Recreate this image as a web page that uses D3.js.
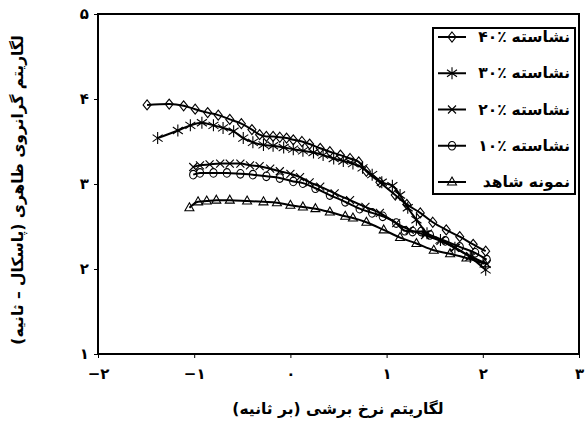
<!DOCTYPE html>
<html>
<head>
<meta charset="utf-8">
<script src="https://cdn.jsdelivr.net/npm/d3@7"></script>
<style>
  html, body { margin: 0; padding: 0; background: #fff; }
  svg { display: block; }
  text { font-family: "DejaVu Sans", sans-serif; font-weight: bold; fill: #000; }
</style>
</head>
<body>
<svg id="chart" width="585" height="430"></svg>
<script>
// ---- data ----
const xTicks = [-2, -1, 0, 1, 2, 3];
const xTickLabels = ["−۲", "−۱", "۰", "۱", "۲", "۳"];
const yTicks = [1, 2, 3, 4, 5];
const yTickLabels = ["۱", "۲", "۳", "۴", "۵"];

// legend: word part and (optional) percentage part
const seriesWords = ["نشاسته", "نشاسته", "نشاسته", "نشاسته", "نمونه شاهد"];
const seriesPercents = ["۴۰٪", "۳۰٪", "۲۰٪", "۱۰٪", ""];
const seriesSymbols = ["diamond", "asterisk", "cross", "circle", "triangle"];

const starch40 = [
  [-1.49, 3.93], [-1.26, 3.94], [-1.11, 3.92], [-0.99, 3.88], [-0.86, 3.84], [-0.75, 3.81],
  [-0.63, 3.76], [-0.51, 3.71], [-0.40, 3.64], [-0.32, 3.58], [-0.25, 3.56], [-0.18, 3.56],
  [-0.11, 3.55], [-0.04, 3.54], [0.03, 3.52], [0.12, 3.50], [0.20, 3.47], [0.31, 3.42],
  [0.41, 3.38], [0.52, 3.34], [0.62, 3.30], [0.71, 3.26], [0.79, 3.15], [0.93, 3.02],
  [1.09, 2.87], [1.21, 2.76], [1.35, 2.66], [1.48, 2.55], [1.62, 2.46], [1.76, 2.38],
  [1.90, 2.29], [2.03, 2.21]
];
const starch30 = [
  [-1.38, 3.54], [-1.17, 3.63], [-1.04, 3.69], [-0.92, 3.72], [-0.80, 3.69], [-0.70, 3.66],
  [-0.59, 3.62], [-0.49, 3.54], [-0.39, 3.49], [-0.28, 3.46], [-0.18, 3.45], [-0.07, 3.43],
  [0.03, 3.41], [0.13, 3.39], [0.24, 3.37], [0.34, 3.34], [0.45, 3.30], [0.55, 3.27],
  [0.65, 3.24], [0.75, 3.19], [0.85, 3.11], [0.95, 3.02], [1.06, 2.98], [1.14, 2.87],
  [1.22, 2.72], [1.31, 2.58], [1.42, 2.42], [1.56, 2.34], [1.71, 2.25], [1.87, 2.14],
  [2.03, 1.99]
];
const starch20 = [
  [-1.01, 3.20], [-0.94, 3.22], [-0.84, 3.23], [-0.73, 3.24], [-0.63, 3.24], [-0.52, 3.24],
  [-0.42, 3.22], [-0.32, 3.21], [-0.21, 3.18], [-0.11, 3.15], [0.00, 3.12], [0.10, 3.08],
  [0.20, 3.02], [0.31, 2.97], [0.46, 2.89], [0.62, 2.81], [0.78, 2.73], [0.93, 2.66],
  [1.10, 2.54], [1.24, 2.46], [1.40, 2.40], [1.56, 2.33], [1.71, 2.25], [1.87, 2.15],
  [2.04, 2.06]
];
const starch10 = [
  [-1.01, 3.11], [-0.94, 3.13], [-0.80, 3.13], [-0.66, 3.13], [-0.52, 3.12], [-0.39, 3.11],
  [-0.25, 3.09], [-0.11, 3.07], [0.03, 3.03], [0.13, 3.01], [0.26, 2.95], [0.41, 2.87],
  [0.57, 2.79], [0.72, 2.71], [0.85, 2.66], [0.96, 2.62], [1.10, 2.54], [1.19, 2.45],
  [1.27, 2.44], [1.36, 2.44], [1.45, 2.40], [1.61, 2.33], [1.76, 2.26], [1.92, 2.19],
  [2.04, 2.11]
];
const control = [
  [-1.05, 2.72], [-0.96, 2.79], [-0.87, 2.80], [-0.77, 2.81], [-0.63, 2.81], [-0.45, 2.80],
  [-0.28, 2.79], [-0.14, 2.78], [0.00, 2.75], [0.13, 2.73], [0.26, 2.71], [0.41, 2.67],
  [0.57, 2.62], [0.65, 2.60], [0.79, 2.55], [0.97, 2.46], [1.14, 2.37], [1.31, 2.30],
  [1.49, 2.22], [1.66, 2.18], [1.83, 2.13], [2.02, 2.06]
];
const seriesData = [starch40, starch30, starch20, starch10, control];

// ---- layout ----
const svg = d3.select("#chart");
const x = d3.scaleLinear().domain([-2, 3]).range([98, 579]);
const y = d3.scaleLinear().domain([1, 5]).range([354, 14]);

function drawSymbol(g, kind) {
  const s = g.append("g").attr("fill", "none").attr("stroke", "#000").attr("stroke-width", 1.1);
  if (kind === "diamond") s.append("path").attr("d", "M0,-5L4,0L0,5L-4,0Z");
  else if (kind === "asterisk") s.append("path").attr("d", "M0,-6V6M-5,-3.5L5,3.5M-5,3.5L5,-3.5");
  else if (kind === "cross") s.append("path").attr("d", "M-4,-4L4,4M-4,4L4,-4");
  else if (kind === "circle") s.append("ellipse").attr("rx", 3.6).attr("ry", 4.3);
  else if (kind === "triangle") s.append("path").attr("d", "M0,-5L4.5,3L-4.5,3Z");
}

const line = d3.line().x(d => x(d[0])).y(d => y(d[1])).curve(d3.curveMonotoneX);

seriesData.forEach((data, i) => {
  svg.append("path").datum(data)
    .attr("d", line).attr("fill", "none").attr("stroke", "#000").attr("stroke-width", 2);
  const g = svg.append("g");
  data.forEach(d => {
    const m = g.append("g").attr("transform", `translate(${x(d[0])},${y(d[1])})`);
    drawSymbol(m, seriesSymbols[i]);
  });
});

// frame
svg.append("rect").attr("x", x(-2)).attr("y", y(5))
  .attr("width", x(3) - x(-2)).attr("height", y(1) - y(5))
  .attr("fill", "none").attr("stroke", "#000").attr("stroke-width", 2);

// axes
const xAxis = d3.axisBottom(x).tickValues(xTicks).tickSize(4).tickPadding(10)
  .tickFormat((d, i) => xTickLabels[i]);
const gx = svg.append("g").attr("transform", `translate(0,${y(1)})`).call(xAxis);
gx.select(".domain").remove();
gx.selectAll("text").attr("font-size", 15).attr("font-family", "DejaVu Sans").attr("font-weight", "bold");

const yAxis = d3.axisLeft(y).tickValues(yTicks).tickSize(4).tickPadding(5)
  .tickFormat((d, i) => yTickLabels[i]);
const gy = svg.append("g").attr("transform", `translate(${x(-2)},0)`).call(yAxis);
gy.select(".domain").remove();
gy.selectAll("text").attr("font-size", 15).attr("font-family", "DejaVu Sans").attr("font-weight", "bold");

// axis titles
svg.append("text").attr("x", 338).attr("y", 414).attr("text-anchor", "middle")
  .attr("font-size", 15.5).text("لگاریتم نرخ برشی (بر ثانیه)");
svg.append("text").attr("transform", "translate(23,190) rotate(-90)")
  .attr("text-anchor", "middle").attr("font-size", 15.5)
  .text("لگاریتم گرانروی ظاهری (پاسکال – ثانیه)");

// legend
const lg = svg.append("g");
lg.append("rect").attr("x", 433).attr("y", 28).attr("width", 142).attr("height", 166)
  .attr("fill", "#fff").attr("stroke", "#000").attr("stroke-width", 2);
const rowY = d3.scalePoint().domain(d3.range(seriesWords.length)).range([37, 182]);
seriesWords.forEach((word, i) => {
  const yy = rowY(i);
  lg.append("line").attr("x1", 438).attr("x2", 466).attr("y1", yy).attr("y2", yy)
    .attr("stroke", "#000").attr("stroke-width", 2);
  const m = lg.append("g").attr("transform", `translate(452,${yy})`);
  drawSymbol(m, seriesSymbols[i]);
  const w = lg.append("text").attr("x", 570).attr("y", yy + 5).attr("text-anchor", "end")
    .attr("font-size", 15.5).text(word);
  if (seriesPercents[i]) {
    const wl = w.node().getComputedTextLength();
    lg.append("text").attr("x", 570 - wl - 5).attr("y", yy + 5).attr("text-anchor", "end")
      .attr("font-size", 15.5).text(seriesPercents[i]);
  }
});
</script>
</body>
</html>
